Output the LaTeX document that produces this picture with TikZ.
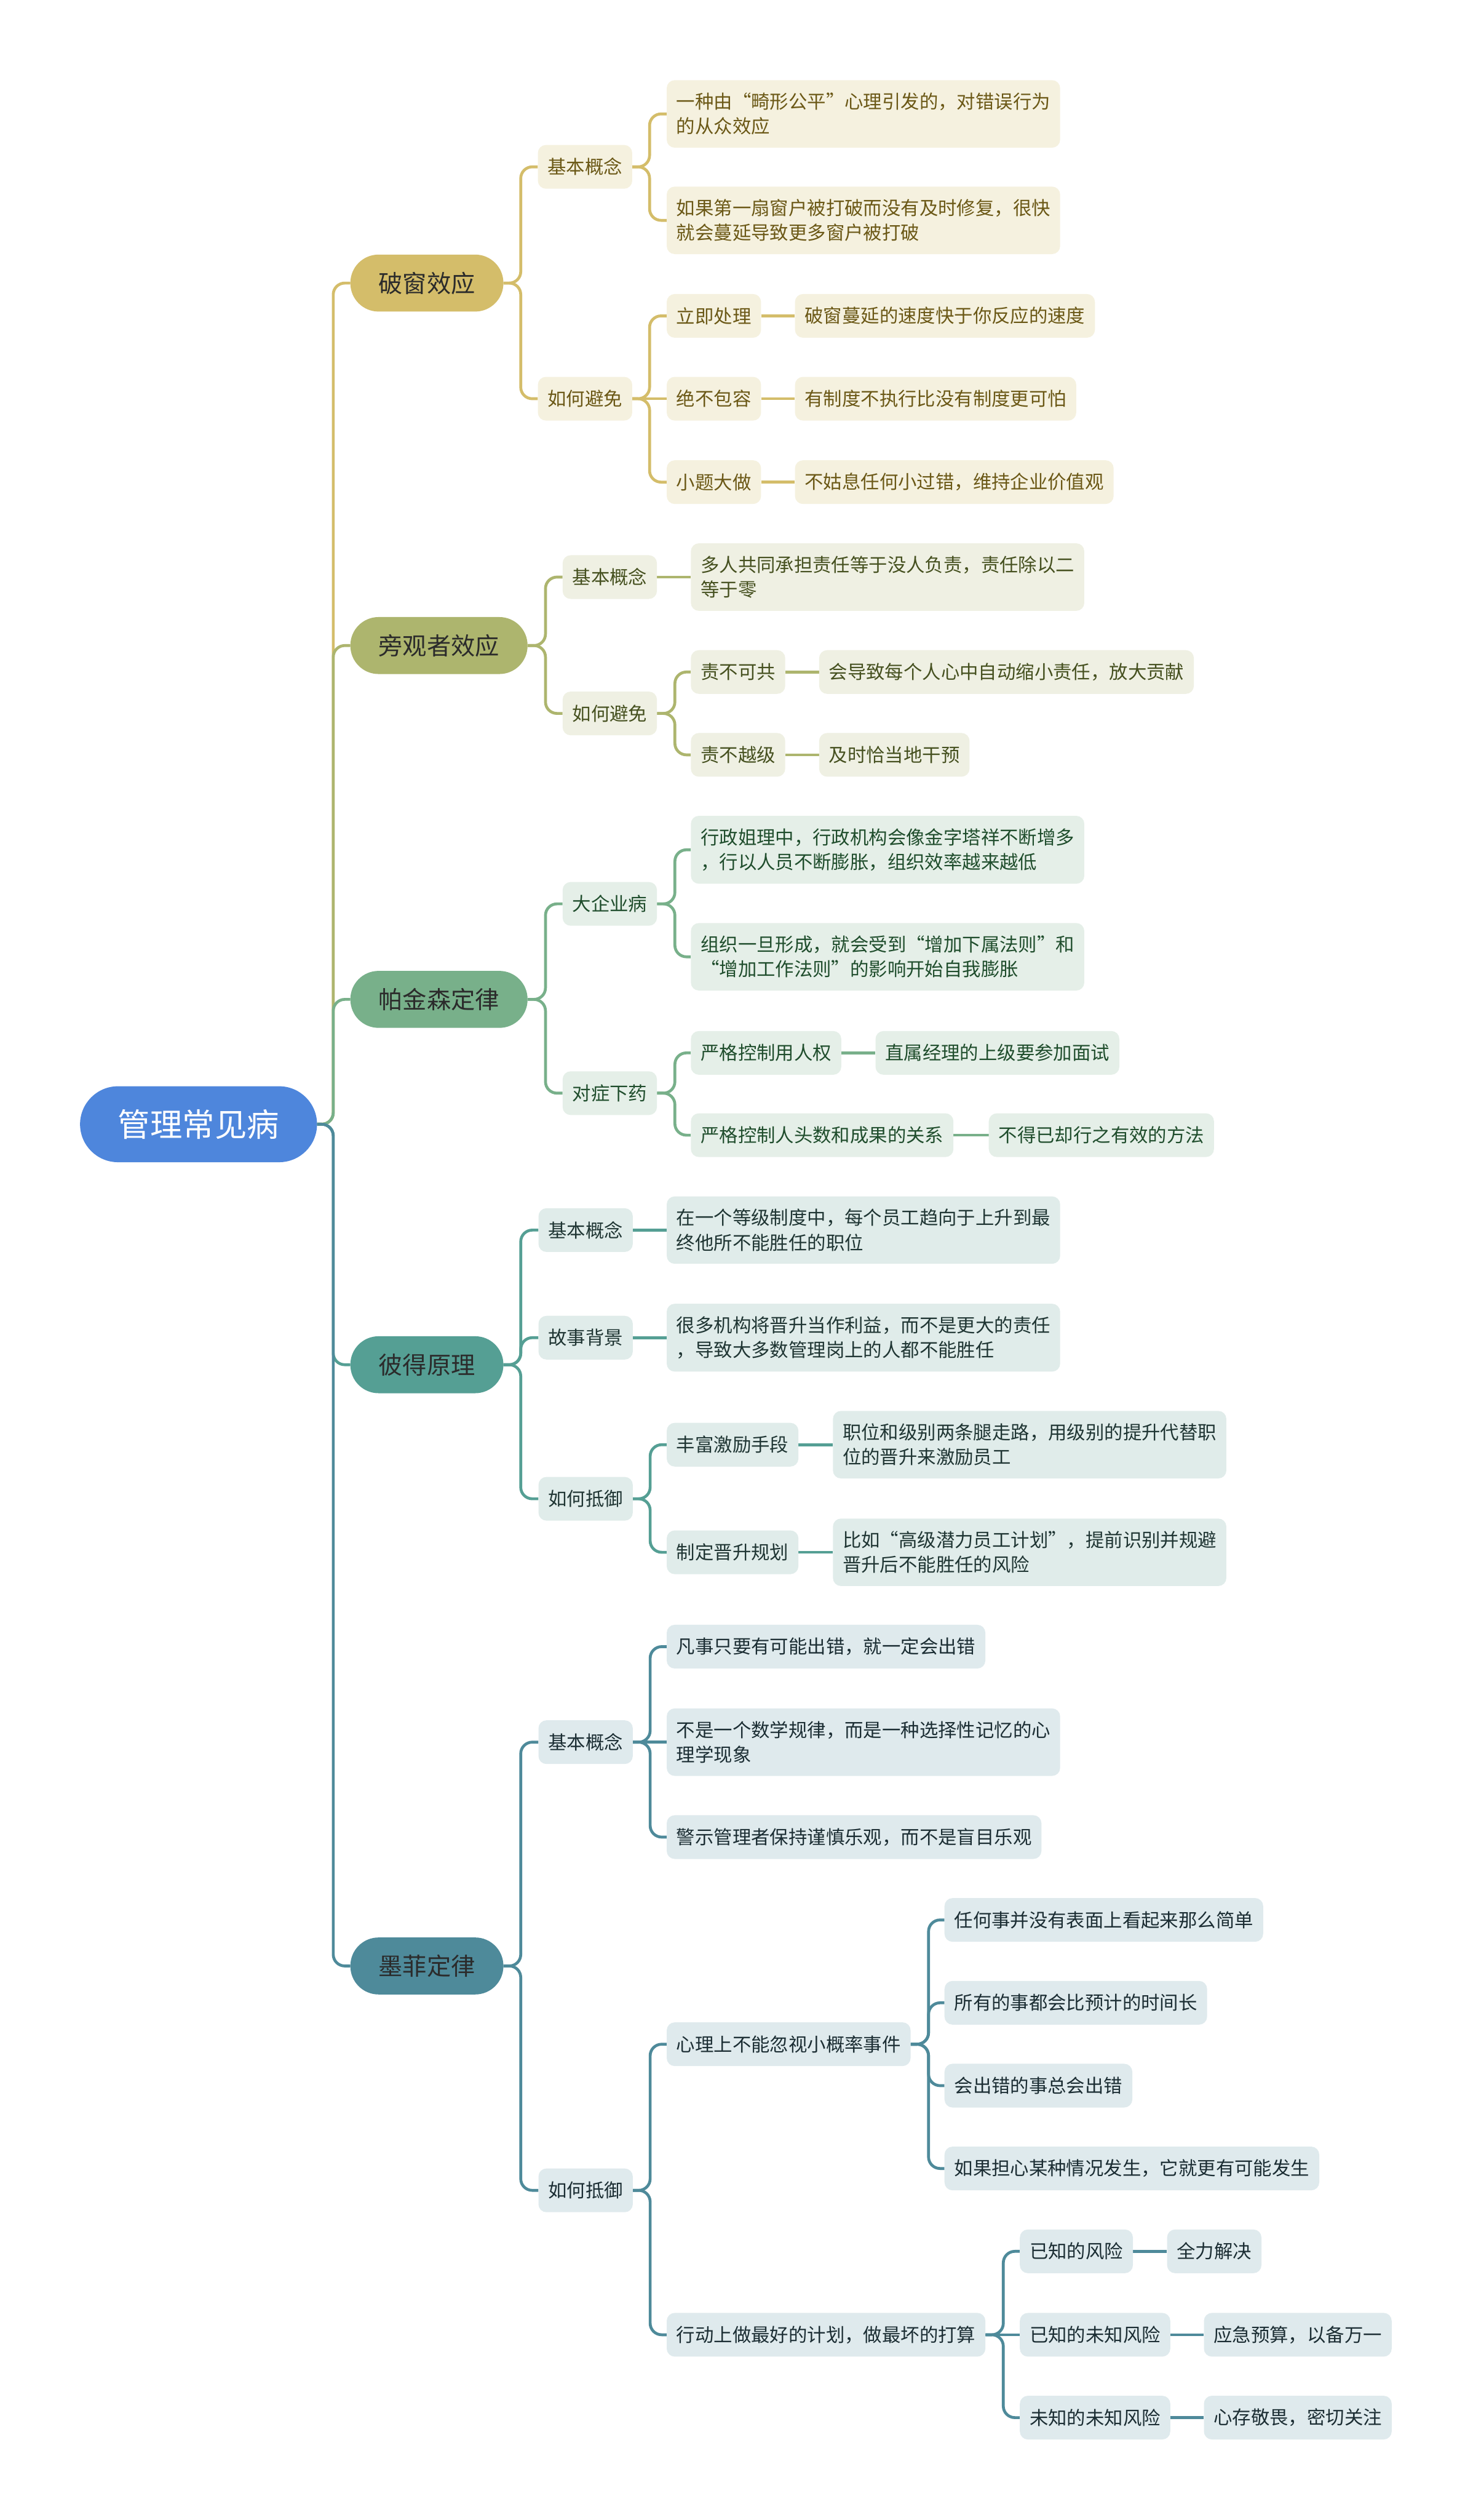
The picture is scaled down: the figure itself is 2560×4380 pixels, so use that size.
\documentclass[tikz,border=0pt]{standalone}
\usepackage{fontspec}
\setmainfont{Noto Sans CJK SC}
\usetikzlibrary{backgrounds}
\definecolor{rootc}{HTML}{4E86DC}
\definecolor{pcc}{HTML}{D4BD6A}
\definecolor{pcf}{HTML}{F5F1DF}
\definecolor{pct}{HTML}{6B5816}
\definecolor{pgc}{HTML}{ADB56E}
\definecolor{pgf}{HTML}{EFF0E3}
\definecolor{pgt}{HTML}{45501F}
\definecolor{pjc}{HTML}{78B08A}
\definecolor{pjf}{HTML}{E5EFE8}
\definecolor{pjt}{HTML}{1F4D2C}
\definecolor{bdc}{HTML}{559F94}
\definecolor{bdf}{HTML}{E0ECEA}
\definecolor{bdt}{HTML}{1F3533}
\definecolor{mfc}{HTML}{4E8A9A}
\definecolor{mff}{HTML}{DFEAED}
\definecolor{mft}{HTML}{1B2D33}
\definecolor{lonet}{HTML}{2B2B2B}
\tikzset{
  rootnode/.style={anchor=west, fill=rootc, text=white, rounded corners=66pt,
    minimum width=412pt, minimum height=132pt, inner sep=0pt,
    font=\fontsize{56}{64}\selectfont},
  lone/.style={anchor=west, fill=#1, text=lonet, rounded corners=49pt,
    minimum height=99pt, inner xsep=49pt, inner ysep=0pt,
    font=\fontsize{42}{50}\selectfont},
  sub/.style 2 args={anchor=west, fill=#1, text=#2, rounded corners=14pt,
    minimum height=76pt, inner xsep=17pt, inner ysep=22pt, align=left,
    font=\fontsize{32.5}{43}\selectfont},
  pcs/.style={sub={pcf}{pct}},
  pgs/.style={sub={pgf}{pgt}},
  pjs/.style={sub={pjf}{pjt}},
  bds/.style={sub={bdf}{bdt}},
  mfs/.style={sub={mff}{mft}},
  link/.style={draw=#1, line width=5pt, rounded corners=20pt}
}
\newcommand\elbow[4]{\draw[link=#1] (#2.east) -- ++(#4,0pt) |- (#3.west);}
\newcommand\straight[3]{\draw[link=#1] (#2.east) -- (#3.west);}
\begin{document}
\begin{tikzpicture}[x=1pt,y=-1pt]
\useasboundingbox (0,0) rectangle (2560,4380);

% root
\node[rootnode] (root) at (139,1954) {管理常见病};

% 破窗效应
\node[lone=pcc] (pc) at (609,492) {破窗效应};
\node[pcs] (pc1) at (935,290) {基本概念};
\node[pcs] (pc11) at (1159,198) {一种由“畸形公平”心理引发的，对错误行为\\的从众效应};
\node[pcs] (pc12) at (1159,383) {如果第一扇窗户被打破而没有及时修复，很快\\就会蔓延导致更多窗户被打破};
\node[pcs] (pc2) at (935,693) {如何避免};
\node[pcs] (pc21) at (1159,549) {立即处理};
\node[pcs] (pc211) at (1382,549) {破窗蔓延的速度快于你反应的速度};
\node[pcs] (pc22) at (1159,693) {绝不包容};
\node[pcs] (pc221) at (1382,693) {有制度不执行比没有制度更可怕};
\node[pcs] (pc23) at (1159,838) {小题大做};
\node[pcs] (pc231) at (1382,838) {不姑息任何小过错，维持企业价值观};

% 旁观者效应
\node[lone=pgc] (pg) at (609,1122) {旁观者效应};
\node[pgs] (pg1) at (978,1003) {基本概念};
\node[pgs] (pg11) at (1201,1003) {多人共同承担责任等于没人负责，责任除以二\\等于零};
\node[pgs] (pg2) at (978,1240) {如何避免};
\node[pgs] (pg21) at (1201,1168) {责不可共};
\node[pgs] (pg211) at (1424,1168) {会导致每个人心中自动缩小责任，放大贡献};
\node[pgs] (pg22) at (1201,1312) {责不越级};
\node[pgs] (pg221) at (1424,1312) {及时恰当地干预};

% 帕金森定律
\node[lone=pjc] (pj) at (609,1737) {帕金森定律};
\node[pjs] (pj1) at (978,1571) {大企业病};
\node[pjs] (pj11) at (1201,1477) {行政姐理中，行政机构会像金字塔祥不断增多\\，行以人员不断膨胀，组织效率越来越低};
\node[pjs] (pj12) at (1201,1663) {组织一旦形成，就会受到“增加下属法则”和\\“增加工作法则”的影响开始自我膨胀};
\node[pjs] (pj2) at (978,1900) {对症下药};
\node[pjs] (pj21) at (1201,1830) {严格控制用人权};
\node[pjs] (pj211) at (1522,1830) {直属经理的上级要参加面试};
\node[pjs] (pj22) at (1201,1973) {严格控制人头数和成果的关系};
\node[pjs] (pj221) at (1719,1973) {不得已却行之有效的方法};

% 彼得原理
\node[lone=bdc] (bd) at (609,2372) {彼得原理};
\node[bds] (bd1) at (936,2138) {基本概念};
\node[bds] (bd11) at (1159,2138) {在一个等级制度中，每个员工趋向于上升到最\\终他所不能胜任的职位};
\node[bds] (bd2) at (936,2325) {故事背景};
\node[bds] (bd21) at (1159,2325) {很多机构将晋升当作利益，而不是更大的责任\\，导致大多数管理岗上的人都不能胜任};
\node[bds] (bd3) at (936,2605) {如何抵御};
\node[bds] (bd31) at (1159,2511) {丰富激励手段};
\node[bds] (bd311) at (1448,2511) {职位和级别两条腿走路，用级别的提升代替职\\位的晋升来激励员工};
\node[bds] (bd32) at (1159,2698) {制定晋升规划};
\node[bds] (bd321) at (1448,2698) {比如“高级潜力员工计划”，提前识别并规避\\晋升后不能胜任的风险};

% 墨菲定律
\node[lone=mfc] (mf) at (609,3417) {墨菲定律};
\node[mfs] (mf1) at (936,3028) {基本概念};
\node[mfs] (mf11) at (1159,2862) {凡事只要有可能出错，就一定会出错};
\node[mfs] (mf12) at (1159,3028) {不是一个数学规律，而是一种选择性记忆的心\\理学现象};
\node[mfs] (mf13) at (1159,3193) {警示管理者保持谨慎乐观，而不是盲目乐观};
\node[mfs] (mf2) at (936,3807) {如何抵御};
\node[mfs] (mf21) at (1159,3553) {心理上不能忽视小概率事件};
\node[mfs] (mf211) at (1642,3337) {任何事并没有表面上看起来那么简单};
\node[mfs] (mf212) at (1642,3481) {所有的事都会比预计的时间长};
\node[mfs] (mf213) at (1642,3625) {会出错的事总会出错};
\node[mfs] (mf214) at (1642,3769) {如果担心某种情况发生，它就更有可能发生};
\node[mfs] (mf22) at (1159,4058) {行动上做最好的计划，做最坏的打算};
\node[mfs] (mf221) at (1773,3913) {已知的风险};
\node[mfs] (mf2211) at (2029,3913) {全力解决};
\node[mfs] (mf222) at (1773,4058) {已知的未知风险};
\node[mfs] (mf2221) at (2093,4058) {应急预算，以备万一};
\node[mfs] (mf223) at (1773,4202) {未知的未知风险};
\node[mfs] (mf2231) at (2093,4202) {心存敬畏，密切关注};

\begin{pgfonlayer}{background}
\fill[white] (0,0) rectangle (2560,4380);
% trunk
\elbow{pcc}{root}{pc}{28pt}
\elbow{pgc}{root}{pg}{28pt}
\elbow{pjc}{root}{pj}{28pt}
\elbow{bdc}{root}{bd}{28pt}
\elbow{mfc}{root}{mf}{28pt}
% 破窗
\elbow{pcc}{pc}{pc1}{30pt}
\elbow{pcc}{pc}{pc2}{30pt}
\elbow{pcc}{pc1}{pc11}{30pt}
\elbow{pcc}{pc1}{pc12}{30pt}
\elbow{pcc}{pc2}{pc21}{30pt}
\straight{pcc}{pc2}{pc22}
\elbow{pcc}{pc2}{pc23}{30pt}
\straight{pcc}{pc21}{pc211}
\straight{pcc}{pc22}{pc221}
\straight{pcc}{pc23}{pc231}
% 旁观者
\elbow{pgc}{pg}{pg1}{31pt}
\elbow{pgc}{pg}{pg2}{31pt}
\straight{pgc}{pg1}{pg11}
\elbow{pgc}{pg2}{pg21}{31pt}
\elbow{pgc}{pg2}{pg22}{31pt}
\straight{pgc}{pg21}{pg211}
\straight{pgc}{pg22}{pg221}
% 帕金森
\elbow{pjc}{pj}{pj1}{31pt}
\elbow{pjc}{pj}{pj2}{31pt}
\elbow{pjc}{pj1}{pj11}{31pt}
\elbow{pjc}{pj1}{pj12}{31pt}
\elbow{pjc}{pj2}{pj21}{31pt}
\elbow{pjc}{pj2}{pj22}{31pt}
\straight{pjc}{pj21}{pj211}
\straight{pjc}{pj22}{pj221}
% 彼得
\elbow{bdc}{bd}{bd1}{30pt}
\elbow{bdc}{bd}{bd2}{30pt}
\elbow{bdc}{bd}{bd3}{30pt}
\straight{bdc}{bd1}{bd11}
\straight{bdc}{bd2}{bd21}
\elbow{bdc}{bd3}{bd31}{30pt}
\elbow{bdc}{bd3}{bd32}{30pt}
\straight{bdc}{bd31}{bd311}
\straight{bdc}{bd32}{bd321}
% 墨菲
\elbow{mfc}{mf}{mf1}{30pt}
\elbow{mfc}{mf}{mf2}{30pt}
\elbow{mfc}{mf1}{mf11}{30pt}
\straight{mfc}{mf1}{mf12}
\elbow{mfc}{mf1}{mf13}{30pt}
\elbow{mfc}{mf2}{mf21}{30pt}
\elbow{mfc}{mf2}{mf22}{30pt}
\elbow{mfc}{mf21}{mf211}{31pt}
\elbow{mfc}{mf21}{mf212}{31pt}
\elbow{mfc}{mf21}{mf213}{31pt}
\elbow{mfc}{mf21}{mf214}{31pt}
\elbow{mfc}{mf22}{mf221}{31pt}
\straight{mfc}{mf22}{mf222}
\elbow{mfc}{mf22}{mf223}{31pt}
\straight{mfc}{mf221}{mf2211}
\straight{mfc}{mf222}{mf2221}
\straight{mfc}{mf223}{mf2231}
\end{pgfonlayer}
\end{tikzpicture}
\end{document}
